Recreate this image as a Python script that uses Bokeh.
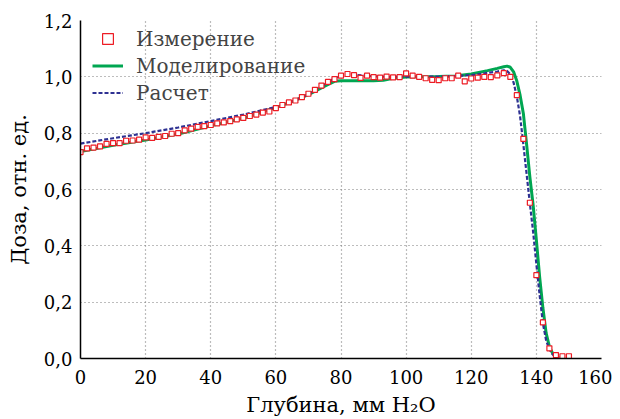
from bokeh.plotting import figure
from bokeh.models import FixedTicker, Legend, LegendItem, Range1d
from bokeh.embed import file_html
from bokeh.resources import INLINE

# --- data -------------------------------------------------------------
meas_depth = [0, 2, 4, 6, 8, 10, 12, 14, 16, 18, 20, 22, 24, 26, 28, 30, 32, 34,
              36, 38, 40, 42, 44, 46, 48, 50, 52, 54, 56, 58, 60, 62, 64, 66, 68,
              70, 72, 74, 76, 78, 80, 82, 84, 86, 88, 90, 92, 94, 96, 98, 100,
              102, 104, 106, 108, 110, 112, 114, 116, 118, 120, 122, 124, 126,
              128, 130, 132, 134, 136, 138, 140, 142, 144, 146, 148, 150]
meas_dose = [0.733, 0.746, 0.749, 0.753, 0.762, 0.765, 0.765, 0.773, 0.774, 0.777,
             0.785, 0.783, 0.787, 0.790, 0.798, 0.800, 0.810, 0.816, 0.822, 0.825,
             0.829, 0.835, 0.838, 0.843, 0.849, 0.854, 0.861, 0.866, 0.873, 0.877,
             0.889, 0.900, 0.909, 0.916, 0.928, 0.940, 0.954, 0.969, 0.982, 0.992,
             1.004, 1.010, 1.006, 0.996, 1.004, 0.999, 0.997, 1.001, 0.998, 0.999,
             1.012, 1.004, 1.000, 0.995, 0.989, 0.988, 0.995, 0.995, 1.004, 0.984,
             0.994, 0.997, 1.000, 0.999, 1.005, 1.013, 1.000, 0.935, 0.780, 0.553,
             0.296, 0.128, 0.036, 0.012, 0.008, 0.008]

model_depth = [0, 10, 20, 30, 40, 50, 60, 65, 70, 75, 78, 80, 85, 90, 93, 96, 100,
               105, 110, 115, 120, 125, 128, 130, 131, 132, 133, 134, 135, 136,
               137, 138, 139, 140, 141, 142, 143, 144, 145, 146, 147]
model_dose = [0.735, 0.757, 0.776, 0.797, 0.826, 0.853, 0.891, 0.912, 0.937, 0.967,
              0.984, 0.986, 0.986, 0.986, 0.988, 0.995, 0.999, 1.000, 1.001, 1.003,
              1.010, 1.022, 1.030, 1.036, 1.038, 1.034, 1.018, 0.985, 0.935, 0.870,
              0.760, 0.645, 0.545, 0.420, 0.290, 0.180, 0.090, 0.042, 0.018, 0.007,
              0.003]

calc_depth = [0, 10, 20, 30, 40, 50, 60, 65, 70, 75, 78, 80, 82, 85, 90, 95, 100,
              105, 110, 115, 120, 125, 128, 130, 131, 132, 133, 134, 135, 136, 137,
              138, 139, 140, 141, 142, 143, 144, 145, 146, 147]
calc_dose = [0.763, 0.782, 0.800, 0.820, 0.843, 0.866, 0.893, 0.912, 0.938, 0.973,
             0.995, 1.004, 1.008, 1.006, 1.002, 1.000, 1.001, 1.000, 1.001, 1.003,
             1.006, 1.014, 1.019, 1.023, 1.021, 1.008, 0.980, 0.930, 0.860, 0.760,
             0.655, 0.550, 0.450, 0.335, 0.225, 0.125, 0.064, 0.032, 0.015, 0.006,
             0.002]

x_ticks = [0, 20, 40, 60, 80, 100, 120, 140, 160]
x_tick_labels = ["0", "20", "40", "60", "80", "100", "120", "140", "160"]
y_ticks = [0.0, 0.2, 0.4, 0.6, 0.8, 1.0, 1.2]
y_tick_labels = ["0,0", "0,2", "0,4", "0,6", "0,8", "1,0", "1,2"]

series_names = ["Измерение", "Моделирование", "Расчет"]
x_label = "Глубина, мм H₂O"
y_label = "Доза, отн. ед."

# --- figure -----------------------------------------------------------
FONT = "DejaVu Serif"

p = figure(frame_width=521, frame_height=338,
           x_range=Range1d(0, 160), y_range=Range1d(0, 1.2),
           output_backend="svg", toolbar_location=None,
           min_border_left=80, min_border_right=11,
           min_border_top=20, min_border_bottom=53)
p.outline_line_color = None
p.background_fill_color = "white"

for ax in (p.xaxis[0], p.yaxis[0]):
    ax.major_label_text_font = FONT
    ax.major_label_text_font_size = "18px"
    ax.major_label_text_color = "black"
    ax.axis_label_text_font = FONT
    ax.axis_label_text_font_size = "21px"
    ax.axis_label_text_font_style = "normal"
    ax.axis_label_text_color = "black"
    ax.axis_line_color = "black"
    ax.axis_line_width = 1.5
    ax.major_tick_in = 0
    ax.major_tick_out = 0
    ax.minor_tick_in = 0
    ax.minor_tick_out = 0

p.xaxis.ticker = FixedTicker(ticks=x_ticks)
p.xaxis.major_label_overrides = {t: l for t, l in zip(x_ticks, x_tick_labels)}
p.yaxis.ticker = FixedTicker(ticks=y_ticks)
p.yaxis.major_label_overrides = {t: l for t, l in zip(y_ticks, y_tick_labels)}
p.xaxis.axis_label = x_label
p.yaxis.axis_label = y_label
p.xaxis.major_label_standoff = 11
p.yaxis.major_label_standoff = 8
p.xaxis.axis_label_standoff = 6
p.yaxis.axis_label_standoff = 10

for g in (p.xgrid[0], p.ygrid[0]):
    g.grid_line_color = "#7a7a7a"
    g.grid_line_dash = "1 3"
    g.grid_line_width = 1.2

r_model = p.line(model_depth, model_dose, line_color="#00a651", line_width=3)
r_calc = p.line(calc_depth, calc_dose, line_color="#2e3192", line_width=2.2,
                line_dash="4 2")
r_meas = p.scatter(meas_depth, meas_dose, marker="square", size=5,
                   line_color="#ed1c24", fill_color="white", line_width=1.2)

legend = Legend(items=[LegendItem(label=series_names[0], renderers=[r_meas]),
                       LegendItem(label=series_names[1], renderers=[r_model]),
                       LegendItem(label=series_names[2], renderers=[r_calc])],
                location=(12, 252))
legend.label_text_font = FONT
legend.label_text_font_size = "20px"
legend.glyph_width = 31
legend.glyph_height = 27
legend.label_height = 27
legend.spacing = 0
legend.padding = 0
legend.margin = 0
legend.label_standoff = 13
legend.background_fill_alpha = 0
legend.border_line_alpha = 0
p.add_layout(legend)

open("out.html", "w").write(file_html(p, INLINE))
